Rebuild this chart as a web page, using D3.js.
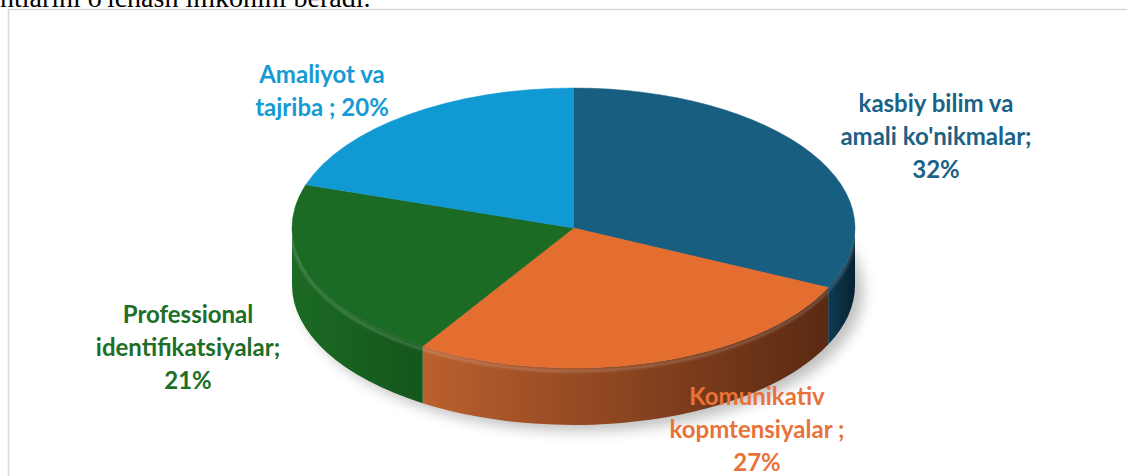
<!DOCTYPE html>
<html>
<head>
<meta charset="utf-8">
<script src="https://cdn.jsdelivr.net/npm/d3@7"></script>
<style>
  html, body { margin: 0; padding: 0; background: #fff; overflow: hidden; }
  text { font-family: Lato, "Open Sans", sans-serif; font-weight: bold; }
</style>
</head>
<body>
<script>
const w = 1127;
const h = 476;

// data
const categories = [
  "kasbiy bilim va amali ko'nikmalar",
  "Komunikativ kopmtensiyalar",
  "Professional identifikatsiyalar",
  "Amaliyot va tajriba"
];
const values = [32, 27, 21, 20];
const labelLines = [
  ["kasbiy bilim va", "amali ko'nikmalar;", "{p}"],
  ["Komunikativ", "kopmtensiyalar ;", "{p}"],
  ["Professional", "identifikatsiyalar;", "{p}"],
  ["Amaliyot va", "tajriba ; {p}"]
];

// styles
const topColors = ["#185e80", "#e46e2f", "#1b6b24", "#1199d3"];
const sideLight = ["#0d3b53", "#bb602e", "#1b6a23", "#0f86bb"];
const sideDark = ["#062231", "#5a2912", "#14561b", "#0a6a94"];
const labelColors = ["#1b6286", "#e8733a", "#1d6e27", "#169ad4"];
const labelPos = [[936, 112], [757, 405], [188, 323], [322, 83]];
const lineGap = 33;

const cx = 573.5, cy = 228, rx = 281.5, ry = 140, depth = 57;

const svg = d3.select("body").append("svg")
  .attr("width", w)
  .attr("height", h);

const defs = svg.append("defs");
defs.append("filter").attr("id", "blur")
  .attr("x", "-20%").attr("y", "-20%").attr("width", "140%").attr("height", "140%")
  .append("feGaussianBlur").attr("stdDeviation", 7);
defs.append("filter").attr("id", "soft")
  .append("feGaussianBlur").attr("stdDeviation", 1.2);

// page text above the chart (cut off)
svg.append("text")
  .attr("x", 0)
  .attr("y", 7)
  .style("font-family", "'Liberation Serif', 'Times New Roman', serif")
  .style("font-weight", "normal")
  .style("font-size", "28px")
  .attr("fill", "#000")
  .text("ntlarini o'lchash imkonini beradi.");

// chart frame
svg.append("rect")
  .attr("x", 8.5).attr("y", 9.5)
  .attr("width", w + 20).attr("height", h + 20)
  .attr("fill", "none")
  .attr("stroke", "#d9d9d9")
  .attr("stroke-width", 1.5);

const pie = d3.pie().sort(null).value((d) => d);
const arcs = pie(values);

const pt = (a, dy = 0) => [cx + rx * Math.sin(a), cy - ry * Math.cos(a) + dy];

// shadow
svg.append("ellipse")
  .attr("cx", cx + 8).attr("cy", cy + depth + 6)
  .attr("rx", rx).attr("ry", ry)
  .attr("fill", "#000").attr("opacity", 0.25)
  .attr("filter", "url(#blur)");

// sides
arcs.forEach((d, i) => {
  const s = Math.max(d.startAngle, Math.PI / 2);
  const e = Math.min(d.endAngle, (3 * Math.PI) / 2);
  if (s >= e) return;
  const p0 = pt(s), p1 = pt(e), p2 = pt(e, depth), p3 = pt(s, depth);
  const xs = [p0[0], p1[0]];
  const g = defs.append("linearGradient")
    .attr("id", "side" + i)
    .attr("gradientUnits", "userSpaceOnUse")
    .attr("x1", d3.min(xs)).attr("x2", d3.max(xs))
    .attr("y1", 0).attr("y2", 0);
  g.append("stop").attr("offset", 0).attr("stop-color", sideLight[i]);
  g.append("stop").attr("offset", 1).attr("stop-color", sideDark[i]);
  const large = e - s > Math.PI ? 1 : 0;
  svg.append("path")
    .attr("d",
      `M${p0}A${rx},${ry} 0 ${large} 1 ${p1}L${p2}A${rx},${ry} 0 ${large} 0 ${p3}Z`)
    .attr("fill", `url(#side${i})`);
  // rim highlight
  svg.append("path")
    .attr("d", `M${pt(s, 3)}A${rx},${ry} 0 ${large} 1 ${pt(e, 3)}`)
    .attr("fill", "none")
    .attr("stroke", "#fff")
    .attr("stroke-opacity", 0.18)
    .attr("stroke-width", 3)
    .attr("filter", "url(#soft)");
});

// tops
arcs.forEach((d, i) => {
  const p0 = pt(d.startAngle), p1 = pt(d.endAngle);
  const large = d.endAngle - d.startAngle > Math.PI ? 1 : 0;
  svg.append("path")
    .attr("d", `M${cx},${cy}L${p0}A${rx},${ry} 0 ${large} 1 ${p1}Z`)
    .attr("fill", topColors[i])
    .attr("stroke", topColors[i])
    .attr("stroke-width", 0.5);
});

// labels
arcs.forEach((d, i) => {
  const t = svg.append("text")
    .attr("text-anchor", "middle")
    .attr("fill", labelColors[i])
    .style("font-size", "24px");
  labelLines[i].forEach((line, k) => {
    t.append("tspan")
      .attr("x", labelPos[i][0])
      .attr("y", labelPos[i][1] + k * lineGap)
      .text(line.replace("{p}", values[i] + "%"));
  });
});
</script>
</body>
</html>
